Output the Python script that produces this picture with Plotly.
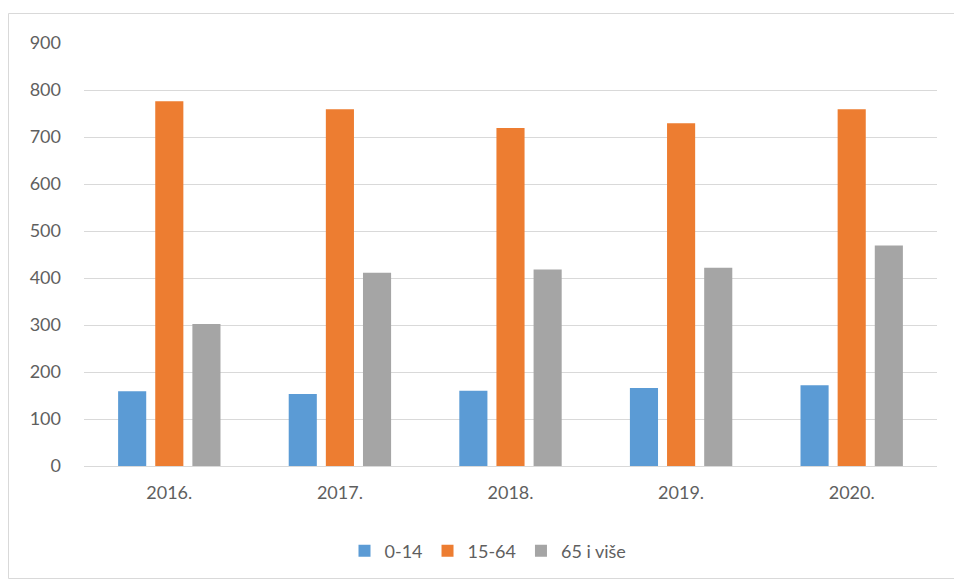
import plotly.graph_objects as go

years = ["2016.", "2017.", "2018.", "2019.", "2020."]
age_0_14 = [159, 153, 160, 166, 172]
age_15_64 = [776, 759, 719, 729, 759]
age_65_plus = [302, 411, 418, 422, 469]
series_names = ["0-14", "15-64", "65 i više"]
colors = ["#5B9BD5", "#ED7D31", "#A5A5A5"]
y_ticks = [0, 100, 200, 300, 400, 500, 600, 700, 800, 900]

W, H = 954, 582
L, R, T, B = 84, 17, 43, 116

fig = go.Figure()
for name, vals, c in zip(series_names, [age_0_14, age_15_64, age_65_plus], colors):
    fig.add_trace(go.Bar(x=years, y=vals, name=name, marker=dict(color=c, line=dict(width=0))))

pw = W - L - R
ph = H - T - B
def px_x(p):
    return (p - L) / pw
def px_y(p):
    return 1 - (p - T) / ph

FONT = "Lato, Liberation Sans, sans-serif"
TXT = "#5f5f5f"

fig.update_layout(
    width=W, height=H,
    margin=dict(l=L, r=R, t=T, b=B),
    paper_bgcolor="white", plot_bgcolor="white",
    barmode="group", bargap=0.347, bargroupgap=0.243,
    font=dict(family=FONT, size=18, color=TXT),
    showlegend=True,
    legend=dict(orientation="h", x=px_x(488), xanchor="center", y=px_y(551), yanchor="middle",
                font=dict(family=FONT, size=18, color=TXT), traceorder="normal"),
    xaxis=dict(showgrid=False, showline=True, linecolor="#D9D9D9", linewidth=1, ticks="",
               ticklabelstandoff=10, tickfont=dict(family=FONT, size=18, color=TXT)),
    yaxis=dict(range=[0, 900], tickvals=y_ticks, showgrid=True, gridcolor="#D9D9D9", gridwidth=1,
               zeroline=False, showline=False, ticks="", ticklabelstandoff=22,
               tickfont=dict(family=FONT, size=18, color=TXT)),
    shapes=[dict(type="rect", xref="paper", yref="paper",
                 x0=px_x(8.5), x1=px_x(W + 20), y0=px_y(578.5), y1=px_y(13.5),
                 line=dict(color="#D9D9D9", width=1), fillcolor="rgba(0,0,0,0)", layer="below")],
)
fig.write_html("out.html", config={"displayModeBar": False},
               post_script="document.body.style.margin='0';document.body.style.overflow='hidden';")
